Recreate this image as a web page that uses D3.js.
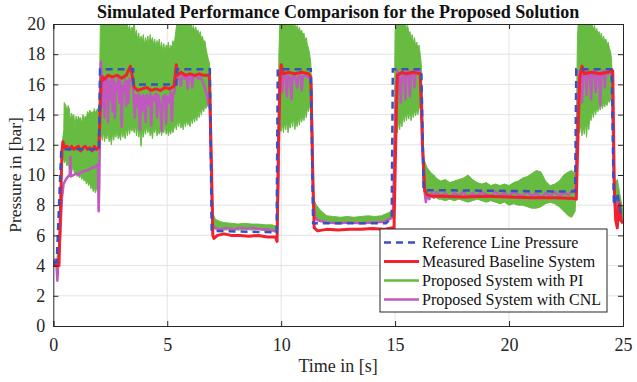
<!DOCTYPE html>
<html>
<head>
<meta charset="utf-8">
<script src="https://cdn.jsdelivr.net/npm/d3@7"></script>
<style>
  body { margin: 0; background: #fff; }
  svg { display: block; font-family: "Liberation Serif", "Times New Roman", serif; }
</style>
</head>
<body>
<svg id="chart" width="637" height="382"></svg>
<script>
// reference line pressure (step profile)
var refT = [0, 0.15, 0.35, 2.0, 2.05, 3.5, 3.52, 5.4, 5.42, 6.87, 6.95, 9.8, 9.85, 11.3, 11.4, 14.6, 14.85, 14.9, 16.15, 16.25, 22.9, 22.95, 24.5, 24.6, 24.75, 24.9, 25];
var refV = [4.2, 4.2, 11.7, 11.7, 17, 17, 16, 16, 17, 17, 6.3, 6.2, 17, 17, 6.8, 6.8, 7.2, 17, 17, 9.0, 8.9, 17, 17, 8.0, 8.8, 7.5, 7.3];

// measured baseline system
var redT = [0, 0.25, 0.32, 0.38, 0.42, 0.5, 0.6, 0.7, 0.8, 0.9, 1.0, 1.1, 1.2, 1.3, 1.4, 1.5, 1.6, 1.7, 1.8, 1.9, 2.0, 2.05, 2.1, 2.15, 2.2, 2.4, 2.6, 2.8, 3.0, 3.2, 3.38, 3.45, 3.55, 3.7, 3.9, 4.1, 4.3, 4.5, 4.7, 4.9, 5.1, 5.3, 5.4, 5.45, 5.6, 5.8, 6.0, 6.2, 6.4, 6.6, 6.85, 6.95, 7.0, 7.05, 7.2, 7.5, 7.8, 8.2, 8.6, 9.0, 9.4, 9.75, 9.82, 9.88, 9.95, 10.0, 10.1, 10.3, 10.6, 10.9, 11.2, 11.3, 11.4, 11.45, 11.6, 12, 12.5, 13, 13.5, 14, 14.5, 14.85, 14.95, 15.05, 15.1, 15.3, 15.5, 15.8, 16.1, 16.2, 16.3, 16.4, 16.6, 17, 18, 19, 20, 21, 22, 22.9, 22.95, 23.05, 23.1, 23.2, 23.3, 23.6, 24, 24.3, 24.55, 24.62, 24.68, 24.75, 24.8, 24.85, 24.9, 25];
var redV = [4.0, 4.0, 8.0, 11.6, 12.2, 11.8, 11.9, 11.7, 11.9, 11.7, 11.8, 11.9, 11.6, 11.8, 11.9, 11.7, 11.8, 11.6, 11.9, 11.7, 11.8, 14.0, 16.2, 16.5, 16.3, 16.6, 16.5, 16.6, 16.4, 16.6, 17.2, 16.7, 15.8, 15.6, 15.7, 15.8, 15.6, 15.7, 15.6, 15.8, 15.7, 15.9, 17.3, 16.6, 16.8, 16.6, 16.7, 16.6, 16.7, 16.6, 16.6, 10.0, 6.0, 5.8, 6.0, 6.1, 6.0, 6.0, 5.95, 6.0, 5.9, 5.9, 5.6, 12.0, 16.3, 17.3, 16.7, 16.8, 16.7, 16.8, 16.7, 16.5, 9.0, 6.5, 6.3, 6.4, 6.35, 6.4, 6.4, 6.45, 6.4, 6.5, 6.4, 14.0, 16.6, 16.8, 16.7, 16.8, 16.7, 12.0, 9.0, 8.7, 8.6, 8.6, 8.55, 8.6, 8.55, 8.5, 8.5, 8.45, 8.4, 14.0, 16.4, 17.2, 16.7, 16.8, 16.7, 16.8, 16.9, 9.0, 7.0, 6.5, 7.8, 8.1, 7.0, 6.8];

// proposed system with PI: band read as lower / upper envelope
var greenT = [0, 0.15, 0.25, 0.32, 0.4, 0.46, 0.48, 0.55, 0.6, 0.65, 0.7, 0.75, 0.8, 0.85, 0.9, 0.95, 1.0, 1.05, 1.1, 1.15, 1.2, 1.25, 1.3, 1.35, 1.4, 1.45, 1.5, 1.55, 1.6, 1.65, 1.7, 1.75, 1.8, 1.85, 1.9, 1.95, 2.0, 2.04, 2.07,
  2.1, 2.15, 2.2, 2.25, 2.3, 2.35, 2.4, 2.45, 2.5, 2.55, 2.6, 2.65, 2.7, 2.75, 2.8, 2.85, 2.9, 2.95, 3.0, 3.05, 3.1, 3.15, 3.2, 3.25, 3.3, 3.35, 3.4, 3.45, 3.5, 3.55, 3.6, 3.65, 3.7, 3.75, 3.8, 3.85, 3.9, 3.95,
  4.0, 4.05, 4.1, 4.15, 4.2, 4.25, 4.3, 4.35, 4.4, 4.45, 4.5, 4.55, 4.6, 4.65, 4.7, 4.75, 4.8, 4.85, 4.9, 4.95, 5.0, 5.05, 5.1, 5.15, 5.2, 5.25, 5.3, 5.35, 5.4, 5.45, 5.5, 5.55, 5.6, 5.65, 5.7, 5.75, 5.8, 5.85, 5.9, 5.95,
  6.0, 6.05, 6.1, 6.15, 6.2, 6.25, 6.3, 6.35, 6.4, 6.45, 6.5, 6.55, 6.6, 6.65, 6.7, 6.75, 6.8, 6.85, 6.9, 6.95, 7.0, 7.05, 7.1, 7.2, 7.35, 7.5, 7.8, 8.1, 8.4, 8.7, 9.0, 9.3, 9.6, 9.8, 9.85,
  9.9, 9.95, 10.0, 10.05, 10.1, 10.15, 10.2, 10.25, 10.3, 10.35, 10.4, 10.45, 10.5, 10.55, 10.6, 10.65, 10.7, 10.75, 10.8, 10.85, 10.9, 10.95, 11.0, 11.05, 11.1, 11.15, 11.2, 11.25, 11.3, 11.35, 11.4, 11.45, 11.55, 11.7, 11.85,
  12.0, 12.3, 12.6, 12.9, 13.2, 13.5, 13.8, 14.1, 14.4, 14.7, 14.85, 14.92, 14.97, 15.0, 15.05, 15.1, 15.15, 15.2, 15.25, 15.3, 15.35, 15.4, 15.45, 15.5, 15.55, 15.6, 15.65, 15.7, 15.75, 15.8, 15.85, 15.9, 15.95,
  16.0, 16.05, 16.1, 16.15, 16.2, 16.25, 16.3, 16.4, 16.5, 16.6, 16.7, 16.8, 16.9, 17.0, 17.2, 17.4, 17.6, 17.8, 18.0, 18.2, 18.4, 18.6, 18.8, 19.0, 19.2, 19.4, 19.6, 19.8, 20.0, 20.2, 20.4, 20.6, 20.8,
  21.0, 21.2, 21.4, 21.6, 21.8, 22.0, 22.2, 22.4, 22.6, 22.75, 22.9, 22.95, 23.0, 23.05, 23.1, 23.15, 23.2, 23.25, 23.3, 23.35, 23.4, 23.45, 23.5, 23.55, 23.6, 23.65, 23.7, 23.75, 23.8, 23.85, 23.9, 23.95,
  24.0, 24.05, 24.1, 24.15, 24.2, 24.25, 24.3, 24.35, 24.4, 24.45, 24.5, 24.55, 24.6, 24.65, 24.7, 24.75, 24.8, 24.85, 24.9, 24.95, 25];
var greenLo = [4.0, 4.0, 4.5, 8.0, 11.2, 11.0, 10.8, 11.0, 10.6, 10.9, 10.4, 10.6, 10.2, 10.5, 10.3, 10.0, 10.2, 9.9, 10.1, 9.8, 10.0, 9.7, 9.9, 9.6, 9.8, 9.4, 9.6, 9.3, 9.5, 9.1, 9.3, 8.9, 9.2, 8.8, 9.1, 9.0, 9.6, 11.0, 12.4,
  12.8, 12.3, 12.9, 12.2, 12.7, 12.4, 13.0, 12.2, 12.6, 12.0, 12.8, 12.3, 12.9, 12.5, 13.0, 12.4, 12.7, 12.3, 13.0, 12.5, 12.9, 12.4, 13.1, 12.6, 13.2, 12.7, 13.3, 12.9, 13.2, 12.8, 13.3, 12.6, 13.2, 12.5, 13.0, 11.9, 12.9, 12.5,
  13.1, 12.7, 13.3, 12.8, 13.2, 12.6, 13.0, 12.4, 13.1, 12.8, 13.2, 12.6, 13.0, 12.7, 13.2, 12.6, 13.0, 12.8, 13.3, 12.7, 13.1, 12.6, 13.0, 12.7, 13.2, 12.8, 13.1, 13.4, 13.0, 13.6, 13.2, 13.7, 13.1, 13.5, 13.0, 13.6, 13.2, 13.7, 13.3, 13.6,
  13.2, 13.8, 13.4, 13.9, 13.5, 14.0, 13.6, 14.2, 13.8, 14.3, 14.0, 14.5, 14.2, 14.6, 14.4, 14.7, 14.5, 14.6, 13.0, 8.0, 6.4, 6.5, 6.4, 6.4, 6.4, 6.35, 6.4, 6.35, 6.4, 6.35, 6.4, 6.3, 6.3, 6.2, 8.0,
  12.5, 13.0, 12.9, 13.4, 12.8, 13.5, 13.0, 13.6, 12.8, 13.4, 13.1, 13.7, 13.2, 13.8, 13.0, 13.6, 13.2, 13.8, 13.3, 13.9, 13.5, 14.0, 13.6, 14.2, 13.8, 14.4, 14.2, 14.6, 14.8, 12.0, 7.5, 7.2, 7.1, 7.0, 6.9,
  6.9, 6.85, 6.8, 6.85, 6.8, 6.85, 6.8, 6.85, 6.9, 7.0, 7.1, 7.2, 11.0, 13.0, 13.5, 12.8, 13.6, 13.0, 13.8, 13.2, 14.0, 13.5, 14.1, 13.6, 14.2, 13.7, 14.3, 13.6, 14.2, 13.8, 14.3, 13.9, 14.4,
  14.0, 14.5, 14.4, 14.6, 11.0, 8.9, 8.8, 8.7, 8.6, 8.6, 8.5, 8.5, 8.4, 8.4, 8.3, 8.4, 8.3, 8.4, 8.3, 8.2, 8.3, 8.4, 8.3, 8.2, 8.3, 8.2, 8.1, 8.2, 8.0, 8.1, 8.0, 8.0, 7.9,
  7.8, 7.8, 7.9, 8.1, 8.2, 8.1, 7.9, 7.6, 7.3, 7.2, 7.6, 10.0, 13.0, 13.2, 12.8, 13.4, 12.6, 13.3, 12.7, 13.5, 12.5, 13.6, 13.0, 14.0, 13.6, 14.3, 13.8, 14.4, 14.0, 14.5, 14.2, 14.6,
  14.3, 14.7, 14.4, 14.8, 14.5, 14.9, 14.6, 15.0, 14.8, 15.0, 15.0, 12.0, 8.2, 7.8, 8.0, 8.3, 8.0, 7.6, 7.2, 7.0, 6.8];
var greenHi = [4.3, 4.4, 5.5, 9.5, 12.2, 13.0, 14.8, 14.6, 14.2, 14.6, 14.4, 13.6, 14.1, 13.8, 14.0, 13.2, 13.9, 13.5, 13.9, 13.7, 13.8, 13.4, 14.0, 13.6, 13.9, 13.7, 14.2, 14.0, 14.3, 14.1, 14.2, 14.0, 14.4, 14.1, 14.3, 14.4, 14.3, 17.0, 20.5,
  20.5, 20.5, 20.5, 20.5, 20.5, 20.5, 20.5, 20.5, 20.5, 20.5, 20.5, 20.5, 20.5, 20.5, 20.5, 20.5, 20.5, 20.5, 20.5, 20.5, 20.3, 19.8, 20.3, 20.0, 19.6, 19.9, 19.4, 19.8, 19.5, 20.2, 19.2, 19.6, 18.9, 19.4, 18.7, 19.2, 18.8, 19.3,
  18.6, 19.1, 18.7, 19.2, 18.5, 19.3, 18.8, 19.1, 18.6, 19.0, 18.4, 18.9, 18.5, 19.0, 18.3, 18.8, 18.2, 18.7, 18.1, 18.6, 18.3, 18.8, 18.2, 18.6, 18.4, 18.9, 18.5, 19.2, 19.8, 20.3, 19.9, 20.5, 20.0, 20.5, 19.9, 20.5, 20.2, 20.5, 19.9, 20.3,
  19.8, 20.1, 19.6, 19.9, 19.5, 19.8, 19.4, 19.6, 19.2, 19.5, 19.0, 19.2, 18.7, 18.9, 18.4, 18.0, 17.7, 17.4, 16.5, 10.0, 7.4, 7.3, 7.1, 7.0, 6.9, 6.85, 6.8, 6.75, 6.8, 6.75, 6.75, 6.7, 6.7, 6.6, 10.0,
  18.0, 20.5, 20.5, 20.5, 20.5, 20.5, 20.5, 20.5, 20.5, 20.3, 20.5, 19.9, 20.2, 19.7, 20.0, 19.6, 19.9, 19.5, 19.8, 19.4, 19.6, 19.2, 19.4, 18.9, 19.1, 18.6, 18.4, 18.0, 17.4, 15.0, 9.0, 8.3, 8.0, 7.7, 7.5,
  7.3, 7.25, 7.2, 7.25, 7.2, 7.25, 7.3, 7.25, 7.3, 7.5, 7.6, 7.7, 14.0, 19.5, 20.5, 20.5, 20.5, 20.5, 20.5, 20.3, 20.5, 19.9, 20.2, 19.6, 19.9, 19.4, 19.5, 19.0, 19.3, 18.7, 19.1, 18.5, 18.8,
  18.3, 18.6, 18.0, 17.3, 13.0, 11.0, 10.9, 10.5, 10.3, 10.1, 10.0, 9.8, 9.7, 9.6, 9.7, 9.5, 9.6, 9.7, 9.8, 10.0, 9.7, 9.5, 9.4, 9.5, 9.3, 9.4, 9.3, 9.4, 9.3, 9.5, 9.6, 9.8, 9.9,
  10.1, 10.3, 10.2, 9.6, 9.3, 9.4, 9.6, 10.0, 10.2, 10.3, 10.1, 13.0, 19.0, 20.5, 20.5, 20.5, 20.5, 20.5, 20.5, 20.5, 20.3, 20.5, 19.9, 20.2, 19.8, 20.0, 19.6, 19.9, 19.4, 19.7, 19.3, 19.5,
  19.1, 19.4, 18.9, 19.2, 18.8, 19.0, 18.6, 18.8, 18.4, 18.2, 17.6, 15.0, 9.8, 9.4, 9.6, 9.7, 9.3, 8.8, 8.4, 8.0, 7.6];

// proposed system with CNL
var cnlT = [0, 0.1, 0.15, 0.18, 0.22, 0.3, 0.38, 0.45, 0.55, 0.65, 0.72, 0.75, 0.78, 0.9, 1.0, 1.1, 1.2, 1.3, 1.4, 1.5, 1.6, 1.7, 1.8, 1.9, 1.96, 1.99, 2.02, 2.06, 2.09, 2.13, 2.17, 2.2, 2.25, 2.28, 2.33, 2.37, 2.4, 2.44, 2.5, 2.55, 2.6, 2.65, 2.7, 2.75, 2.8, 2.85, 2.9, 2.95,
  3.0, 3.05, 3.1, 3.15, 3.2, 3.25, 3.3, 3.35, 3.42, 3.48, 3.52, 3.58, 3.62, 3.7, 3.75, 3.8, 3.85, 3.9, 3.95, 4.0, 4.05, 4.1, 4.2, 4.25, 4.3, 4.35, 4.4, 4.5, 4.55, 4.6, 4.7, 4.75, 4.8, 4.9, 4.95, 5.0, 5.1, 5.15, 5.2, 5.25, 5.32, 5.38, 5.45,
  5.55, 5.6, 5.65, 5.75, 5.85, 5.9, 5.95, 6.05, 6.1, 6.15, 6.25, 6.35, 6.45, 6.55, 6.65, 6.75, 6.82, 6.87, 6.95, 7.0, 7.1, 7.3, 7.6, 7.9, 8.2, 8.5, 8.8, 9.1, 9.4, 9.7, 9.82, 9.88, 9.93, 9.98,
  10.05, 10.1, 10.2, 10.25, 10.3, 10.4, 10.45, 10.5, 10.6, 10.7, 10.75, 10.85, 10.9, 10.95, 11.05, 11.15, 11.25, 11.32, 11.4, 11.48, 11.6, 12, 12.5, 13, 13.5, 14, 14.5, 14.75, 14.9, 14.98,
  15.05, 15.1, 15.2, 15.25, 15.3, 15.4, 15.45, 15.5, 15.6, 15.65, 15.7, 15.8, 15.85, 15.9, 16.0, 16.1, 16.17, 16.25, 16.3, 16.35, 16.4, 16.5, 16.6, 16.7, 16.8, 17, 17.2, 17.4, 17.6, 17.8,
  18, 18.2, 18.4, 18.6, 18.8, 19, 19.2, 19.4, 19.6, 19.8, 20, 20.2, 20.4, 20.6, 20.8, 21, 21.2, 21.4, 21.6, 21.8, 22, 22.2, 22.4, 22.6, 22.8, 22.92,
  23.0, 23.05, 23.1, 23.15, 23.2, 23.25, 23.35, 23.4, 23.45, 23.55, 23.6, 23.65, 23.75, 23.8, 23.85, 23.95, 24.0, 24.05, 24.15, 24.2, 24.25, 24.35, 24.45, 24.52, 24.6, 24.66, 24.72, 24.78, 24.85, 24.92, 25];
var cnlV = [4.3, 4.4, 3.8, 3.0, 4.2, 6.0, 8.5, 9.4, 9.7, 9.9, 10.0, 11.2, 9.9, 10.0, 10.1, 10.0, 10.2, 10.2, 10.3, 10.3, 10.4, 10.5, 10.5, 10.6, 10.7, 7.6, 9.5, 16.0, 17.5, 16.4, 14.5, 16.5, 13.8, 16.3, 15.2, 16.4, 13.5, 16.2, 15.0, 16.4, 14.2, 16.3, 13.8, 16.1, 15.5, 16.4, 14.8, 16.2,
  13.2, 15.9, 15.5, 16.3, 14.6, 16.2, 14.8, 16.4, 16.3, 16.2, 15.4, 13.8, 15.3, 14.5, 15.4, 13.0, 15.2, 14.2, 15.3, 14.8, 13.5, 15.3, 14.6, 15.4, 13.3, 15.2, 14.9, 15.4, 13.8, 15.3, 14.5, 12.9, 15.1, 15.3, 13.4, 15.2, 14.8, 15.5, 13.6, 15.3, 15.5, 16.8, 16.5,
  16.3, 15.9, 16.6, 16.4, 16.6, 15.7, 16.5, 16.6, 15.8, 16.5, 16.6, 16.4, 16.5, 16.2, 15.8, 15.2, 14.6, 14.4, 9.0, 6.6, 6.5, 6.4, 6.5, 6.4, 6.5, 6.45, 6.5, 6.4, 6.4, 6.3, 6.2, 10.0, 15.5, 16.4,
  15.5, 16.6, 16.5, 15.2, 16.6, 16.4, 15.0, 16.5, 16.6, 15.8, 16.5, 16.6, 15.6, 16.5, 16.6, 16.5, 16.4, 16.0, 9.0, 7.2, 7.0, 6.85, 6.8, 6.85, 6.8, 6.85, 6.9, 7.1, 7.2, 12.0,
  16.0, 16.9, 16.2, 14.8, 16.7, 16.8, 15.0, 16.7, 16.9, 15.2, 16.8, 16.9, 15.8, 16.8, 16.9, 16.8, 15.0, 9.5, 8.8, 8.2, 8.7, 8.4, 8.8, 8.5, 8.9, 8.6, 8.8, 8.5, 8.8, 8.6,
  8.9, 8.5, 8.8, 8.6, 8.9, 8.7, 8.6, 8.9, 8.6, 8.8, 8.6, 8.9, 8.7, 8.6, 8.9, 8.6, 8.8, 8.5, 8.8, 8.6, 8.9, 8.6, 8.8, 8.7, 9.0, 8.9,
  13.0, 16.0, 16.9, 16.3, 14.8, 16.7, 16.9, 15.3, 16.8, 16.7, 15.0, 16.8, 16.9, 15.5, 16.8, 16.7, 14.6, 16.8, 16.9, 15.8, 16.8, 16.7, 16.9, 16.6, 10.0, 8.0, 7.5, 8.2, 7.8, 7.2, 7.0];

var xTicks = [0, 5, 10, 15, 20, 25];
var yTicks = [0, 2, 4, 6, 8, 10, 12, 14, 16, 18, 20];
var legendLabels = ["Reference Line Pressure", "Measured Baseline System", "Proposed System with PI", "Proposed System with CNL"];

var colors = {ref: "#3d4fbd", red: "#f2222c", green: "#66bb40", cnl: "#c058be"};

var margin = {top: 24, right: 14, bottom: 56, left: 53.3},
    W = 637, H = 382,
    width = W - margin.left - margin.right,
    height = H - margin.top - margin.bottom;

var svg = d3.select("#chart");

var xScale = d3.scaleLinear().domain([0, 25]).range([0, width]);
var yScale = d3.scaleLinear().domain([0, 20]).range([height, 0]);

var g = svg.append("g").attr("transform", "translate(" + margin.left + "," + margin.top + ")");

svg.append("defs").append("clipPath").attr("id", "plotClip")
  .append("rect").attr("x", 0).attr("y", 0).attr("width", width).attr("height", height);

// grid
g.append("g").selectAll("line").data(xTicks.slice(1, -1)).enter().append("line")
  .attr("x1", function(d) { return xScale(d); }).attr("x2", function(d) { return xScale(d); })
  .attr("y1", 0).attr("y2", height)
  .attr("stroke", "#e3e3e3").attr("stroke-width", 1);
g.append("g").selectAll("line").data(yTicks.slice(1, -1)).enter().append("line")
  .attr("y1", function(d) { return yScale(d); }).attr("y2", function(d) { return yScale(d); })
  .attr("x1", 0).attr("x2", width)
  .attr("stroke", "#e3e3e3").attr("stroke-width", 1);

var plot = g.append("g").attr("clip-path", "url(#plotClip)");

// PI band
var greenData = greenT.map(function(t, i) { return {t: t, lo: greenLo[i], hi: greenHi[i]}; });
plot.append("path").datum(greenData)
  .attr("fill", colors.green)
  .attr("stroke", colors.green).attr("stroke-width", 1)
  .attr("d", d3.area()
    .x(function(d) { return xScale(d.t); })
    .y0(function(d) { return yScale(d.lo); })
    .y1(function(d) { return yScale(d.hi); }));

var line = d3.line()
  .x(function(d) { return xScale(d[0]); })
  .y(function(d) { return yScale(d[1]); });

function zip(a, b) { return a.map(function(v, i) { return [v, b[i]]; }); }

plot.append("path").datum(zip(cnlT, cnlV))
  .attr("fill", "none").attr("stroke", colors.cnl).attr("stroke-width", 2.5)
  .attr("stroke-linejoin", "round").attr("d", line);

plot.append("path").datum(zip(redT, redV))
  .attr("fill", "none").attr("stroke", colors.red).attr("stroke-width", 3)
  .attr("stroke-linejoin", "round").attr("d", line);

plot.append("path").datum(zip(refT, refV))
  .attr("fill", "none").attr("stroke", colors.ref).attr("stroke-width", 2.5)
  .attr("stroke-dasharray", "7,5").attr("d", line);

// axes (box with inward ticks)
var axColor = "#262626";
var xAx = g.append("g").attr("transform", "translate(0," + height + ")")
  .call(d3.axisBottom(xScale).tickValues(xTicks).tickSize(-5).tickPadding(12).tickFormat(d3.format("d")));
var yAx = g.append("g")
  .call(d3.axisLeft(yScale).tickValues(yTicks).tickSize(-5).tickPadding(8).tickFormat(d3.format("d")));
var xTop = g.append("g")
  .call(d3.axisTop(xScale).tickValues(xTicks).tickSize(-5).tickFormat(""));
var yRight = g.append("g").attr("transform", "translate(" + width + ",0)")
  .call(d3.axisRight(yScale).tickValues(yTicks).tickSize(-5).tickFormat(""));

[xAx, yAx, xTop, yRight].forEach(function(a) {
  a.selectAll("path").attr("stroke", axColor).attr("stroke-width", 1);
  a.selectAll("line").attr("stroke", axColor);
  a.selectAll("text").attr("fill", axColor).style("font-size", "18px")
    .style("font-family", "'Liberation Serif', serif");
});

// labels
svg.append("text").attr("x", margin.left + width / 2).attr("y", 18)
  .attr("text-anchor", "middle").attr("font-weight", "bold").attr("font-size", "18px")
  .attr("fill", "#111").text("Simulated Performance Comparison for the Proposed Solution");
svg.append("text").attr("x", margin.left + width / 2).attr("y", 372)
  .attr("text-anchor", "middle").attr("font-size", "18px").attr("fill", axColor).text("Time in [s]");
svg.append("text").attr("transform", "translate(21," + (margin.top + height / 2) + ") rotate(-90)")
  .attr("text-anchor", "middle").attr("font-size", "17.5px").attr("fill", axColor).text("Pressure in [bar]");

// legend
var lg = svg.append("g").attr("transform", "translate(380,229)");
lg.append("rect").attr("width", 227).attr("height", 83)
  .attr("fill", "#fff").attr("stroke", axColor).attr("stroke-width", 1);
var lgStyles = [
  {c: colors.ref, w: 2.5, dash: "7,5"},
  {c: colors.red, w: 3, dash: null},
  {c: colors.green, w: 2.5, dash: null},
  {c: colors.cnl, w: 2.5, dash: null}
];
legendLabels.forEach(function(lab, i) {
  var yy = 13.5 + i * 19;
  lg.append("line").attr("x1", 4).attr("x2", 39).attr("y1", yy).attr("y2", yy)
    .attr("stroke", lgStyles[i].c).attr("stroke-width", lgStyles[i].w)
    .attr("stroke-dasharray", lgStyles[i].dash);
  lg.append("text").attr("x", 42).attr("y", yy + 5.5).attr("font-size", "16px")
    .attr("fill", "#111").text(lab);
});
</script>
</body>
</html>
